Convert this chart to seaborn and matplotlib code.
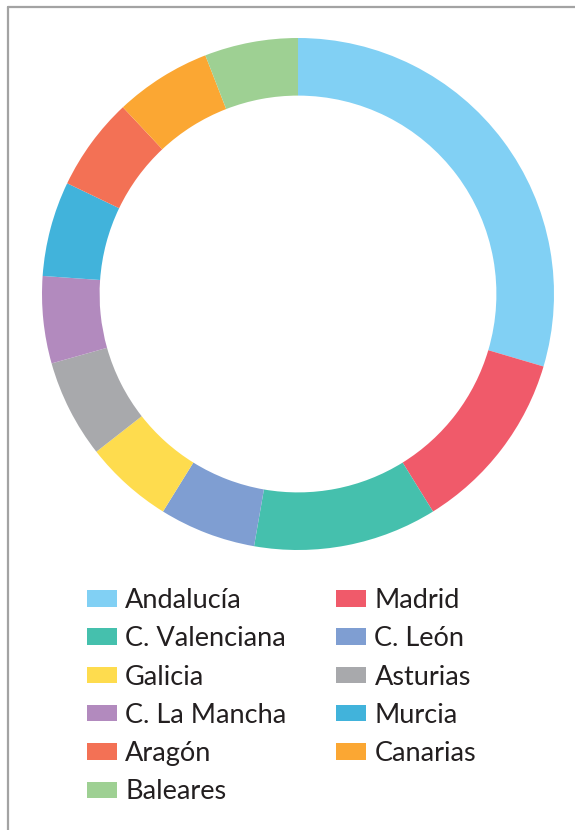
import matplotlib
matplotlib.use("Agg")
import matplotlib.pyplot as plt
import seaborn as sns
from matplotlib.patches import Patch
from matplotlib.lines import Line2D

regions = ["Andalucía", "Madrid", "C. Valenciana", "C. León", "Galicia", "Asturias",
           "C. La Mancha", "Murcia", "Aragón", "Canarias", "Baleares"]
shares = [29.6, 11.6, 11.6, 6.1, 5.6, 6.2, 5.5, 6.0, 5.9, 6.1, 5.9]
hex_colors = ["#81D0F4", "#F05A6A", "#45C0AD", "#7F9ED2", "#FEDC4E", "#A8A9AC",
              "#B28ABE", "#41B3DB", "#F37155", "#FBA733", "#9ED093"]

sns.set_theme(style="white")
plt.rcParams["font.family"] = ["Lato", "DejaVu Sans"]
palette = sns.color_palette(hex_colors)

W, H = 575, 830
fig = plt.figure(figsize=(W / 100, H / 100), dpi=100)
fig.patch.set_facecolor("white")

cx, cy, r = 298, 294, 256
ax = fig.add_axes([(cx - r) / W, (H - cy - r) / H, 2 * r / W, 2 * r / H])
ax.pie(shares, colors=palette, startangle=90, counterclock=False, radius=1.0,
       wedgeprops=dict(width=0.225, edgecolor="none", linewidth=0))
ax.set_xlim(-1, 1)
ax.set_ylim(-1, 1)
ax.set_aspect("equal")
ax.axis("off")

# frame (top and left edges visible)
fig.add_artist(Line2D([7.5 / W, 7.5 / W], [0, 1 - 7.5 / H], transform=fig.transFigure,
                      color="#A3A3A3", linewidth=1.6))
fig.add_artist(Line2D([7.5 / W, 1], [1 - 7.5 / H, 1 - 7.5 / H], transform=fig.transFigure,
                      color="#A3A3A3", linewidth=1.6))

# legend, row-major order in two columns
handles = [Patch(facecolor=c, edgecolor="none") for c in palette]
order = list(range(0, len(regions), 2)) + list(range(1, len(regions), 2))
leg = fig.legend([handles[i] for i in order], [regions[i] for i in order],
                 ncol=2, loc="upper left", bbox_to_anchor=(87 / W, 1 - 588 / H),
                 frameon=False, fontsize=19.5, handlelength=1.11, handleheight=0.56,
                 handletextpad=0.3, labelspacing=0.49, columnspacing=1.84,
                 borderpad=0, borderaxespad=0)
for t in leg.get_texts():
    t.set_color("#231F20")

fig.savefig("out.png", dpi=100, facecolor="white")
